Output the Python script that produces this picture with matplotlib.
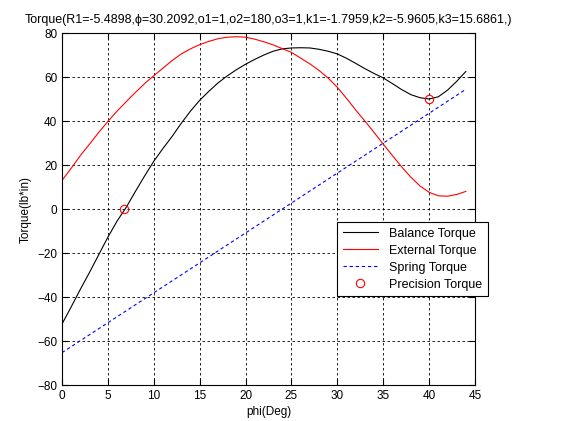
import matplotlib
matplotlib.use("Agg")
import matplotlib.pyplot as plt
import numpy as np

plt.rcParams['font.family'] = ['Liberation Sans', 'DejaVu Sans']

phi = list(range(0, 45))
balance = [-52.3, -44.5, -36.5, -28.8, -20.8, -12.8, -5.5, 0.8, 8, 15,
           21.7, 27.5, 33, 39, 44.5, 49.4, 53.5, 57.3, 60.5, 63.3,
           65.8, 68, 70, 71.7, 72.8, 73.2, 73.3, 73.2, 72.6, 71.7,
           70.5, 68.5, 66.2, 63.8, 61.6, 59.6, 57, 54.3, 52, 50.6,
           50, 51, 54, 58, 62.5]
external = [13, 18.5, 24.3, 29.5, 34.8, 39.8, 44.5, 48.8, 53, 57,
            60.6, 64, 67.5, 70.5, 72.8, 74.7, 76.2, 77.4, 78.1, 78.3,
            78.1, 77.2, 76, 74.6, 72.9, 71.2, 68.6, 66, 63, 59.5,
            55.3, 50.3, 45, 40, 34.8, 29.5, 24.3, 19.2, 14.5, 10.5,
            7.6, 6, 5.8, 6.6, 8]
spring_phi = [0, 44]
spring = [-65.3, 54.4]
prec_phi = [6.8, 40]
prec = [0, 49.8]

title = "Torque(R1=-5.4898,\u03d5=30.2092,o1=1,o2=180,o3=1,k1=-1.7959,k2=-5.9605,k3=15.6861,)"
xticks = [0, 5, 10, 15, 20, 25, 30, 35, 40, 45]
yticks = [-80, -60, -40, -20, 0, 20, 40, 60, 80]

fig = plt.figure(figsize=(5.61, 4.21), dpi=100)
ax = fig.add_axes([62/561, 1-385/421, (475-62)/561, (385-33)/421])

ax.plot(phi, balance, color='black', lw=0.8, label='Balance Torque')
ax.plot(phi, external, color='red', lw=0.8, label='External Torque')
ax.plot(spring_phi, spring, color='blue', lw=0.8, linestyle=(0, (3, 2.5)), label='Spring Torque')
ax.plot(prec_phi, prec, linestyle='none', marker='o', mfc='none', mec='red', ms=6, mew=0.8,
        label='Precision Torque')

ax.set_xlim(0, 45)
ax.set_ylim(-80, 80)
ax.set_xticks(xticks)
ax.set_yticks(yticks)
ax.tick_params(direction='in', top=True, right=True, labelsize=8.5, length=4, width=0.8)
ax.grid(True, color='black', linestyle=(0, (3, 3)), linewidth=0.6)
for s in ax.spines.values():
    s.set_linewidth(0.8)
ax.set_title(title, fontsize=9, pad=7)
ax.set_xlabel('phi(Deg)', fontsize=8.5, labelpad=3)
ax.set_ylabel('Torque(lb*in)', fontsize=8.5, labelpad=4)

leg = ax.legend(loc='upper left', bbox_to_anchor=((337-62)/413, (385-222)/352),
                fontsize=9, frameon=True, fancybox=False, framealpha=1,
                edgecolor='black', borderpad=0.45, labelspacing=0.4, handlelength=2.8,
                handletextpad=0.9, borderaxespad=0)
leg.get_frame().set_linewidth(0.8)

fig.savefig('out.png', dpi=100)
